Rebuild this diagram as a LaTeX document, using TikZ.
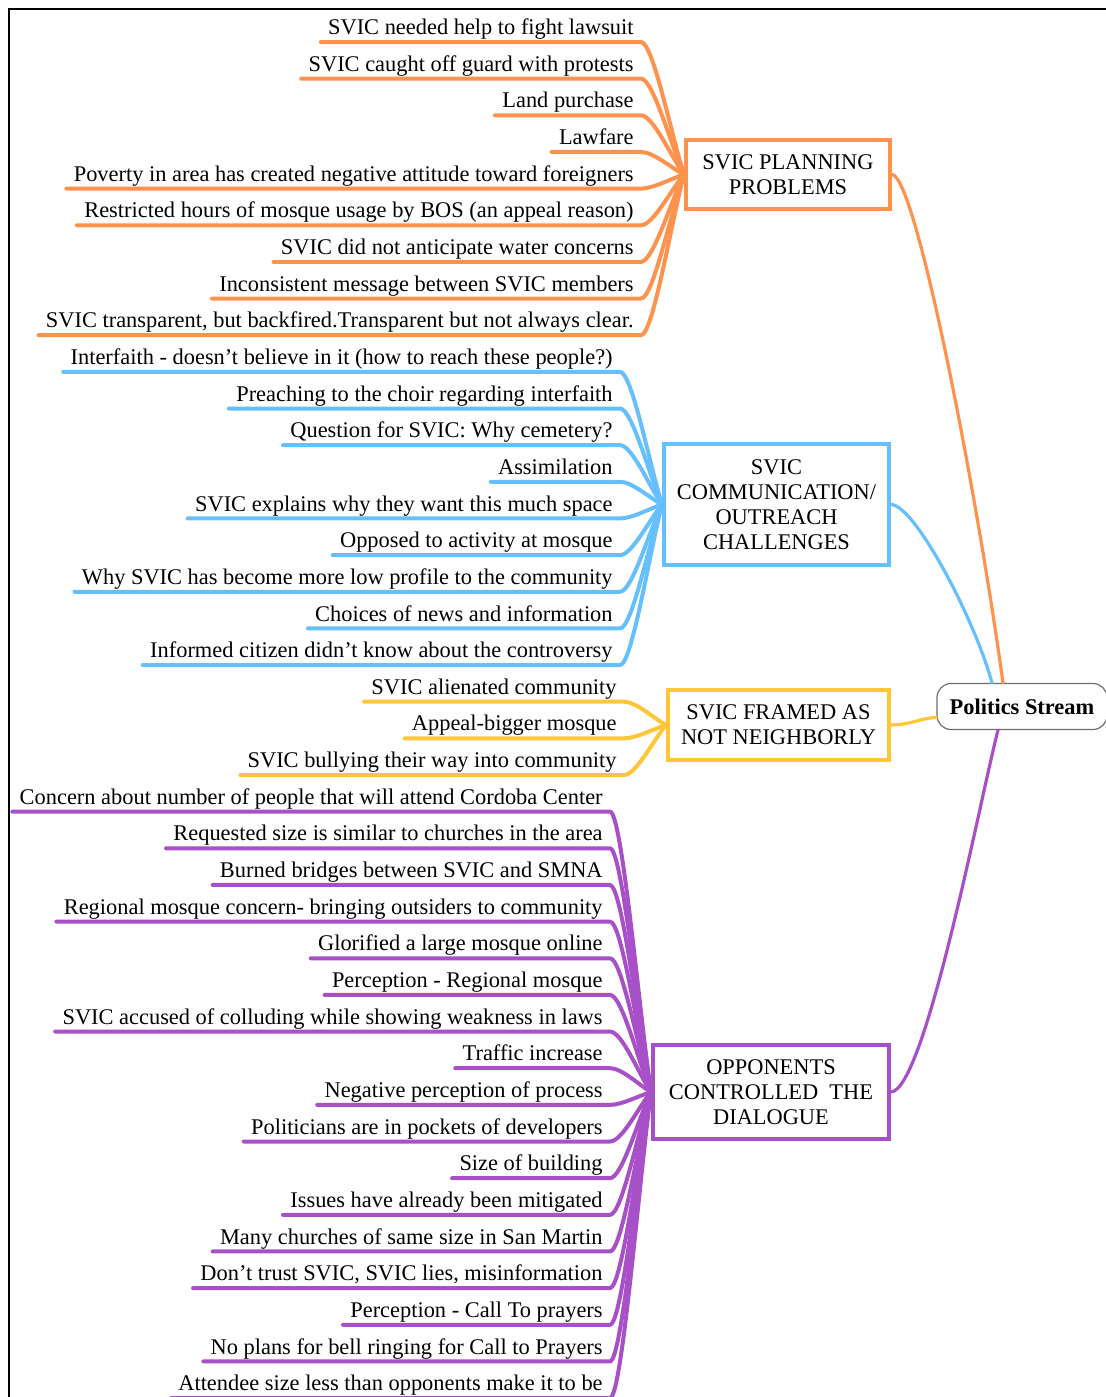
\documentclass[tikz,border=0pt]{standalone}
\usepackage{fontspec}
\setmainfont{Liberation Serif}
\usetikzlibrary{positioning,calc}
\definecolor{maporange}{RGB}{255,146,77}
\definecolor{mapblue}{RGB}{102,192,255}
\definecolor{mapyellow}{RGB}{255,199,56}
\definecolor{mappurple}{RGB}{168,80,200}
\definecolor{mapgray}{RGB}{110,110,110}

\begin{document}
\begin{tikzpicture}[x=0.5pt,y=-0.5pt,font=\fontsize{11.2}{12.5}\selectfont,
        leaf/.style={anchor=south east,inner xsep=3.5pt,inner ysep=0.7pt,text height=7.8pt,text depth=2.8pt},
        leafline/.style={line width=2pt,line cap=round,line join=round},
        topic/.style={line width=2pt,align=center,inner sep=0pt,text=black},
        branch/.style={line width=1.6pt,line cap=round}]
            \useasboundingbox (0,0) rectangle (1106,1397);
            \draw[line width=1pt] (9,1397) -- (9,9) -- (1106,9);

            \node[draw=mapgray,line width=0.6pt,rounded corners=7pt,minimum width=85pt,minimum height=23pt,
                font=\fontsize{11.2}{12.5}\selectfont\bfseries] (root) at (1022,706.5) {Politics Stream};
            \node[topic,draw=maporange,minimum width=102pt,minimum height=34.5pt] (plan) at (788,174.5)
                {SVIC PLANNING\\PROBLEMS};
            \node[topic,draw=mapblue,minimum width=112.5pt,minimum height=60.5pt] (comm) at (776.5,504.5)
                {SVIC\\COMMUNICATION/\\OUTREACH\\CHALLENGES};
            \node[topic,draw=mapyellow,minimum width=110.5pt,minimum height=35pt] (framed) at (778.5,725)
                {SVIC FRAMED AS\\NOT NEIGHBORLY};
            \node[topic,draw=mappurple,minimum width=118pt,minimum height=47pt] (opp) at (771,1092)
                {OPPONENTS\\CONTROLLED\ \ THE\\DIALOGUE};

            % topics to the root
            \draw[branch,maporange] (plan.east) .. controls (915,175) and (975,480) .. ([xshift=-9.5pt]root.north);
            \draw[branch,mapblue] (comm.east) .. controls (915,505) and (975,620) .. ([xshift=-15pt]root.north);
            \draw[branch,mapyellow] (framed.east) .. controls (915,724) and (920,718) .. ([yshift=-5.5pt]root.west);
            \draw[branch,mappurple] ([xshift=-12pt]root.south) .. controls (980,800) and (925,1090) .. (opp.east);

            % leaves
            \foreach \txt [count=\i] in {SVIC needed help to fight lawsuit,
                    SVIC caught off guard with protests,Land purchase,Lawfare,
                    Poverty in area has created negative attitude toward foreigners,
                    Restricted hours of mosque usage by BOS (an appeal reason),
                    SVIC did not anticipate water concerns,Inconsistent message between SVIC members,
                    {SVIC transparent, but backfired.Transparent but not always clear.}}{
                \node[leaf] (o\i) at (641,{42+36.65*(\i-1)}) {\txt};
                \draw[leafline,maporange] (o\i.south west) -- (o\i.south east)
                    .. controls +(12,0) and ($(plan.west)!0.3!(o\i.south east)$) .. (plan.west);
            }
            \foreach \txt [count=\i] in {Interfaith - doesn’t believe in it (how to reach these people?),
                    Preaching to the choir regarding interfaith,Question for SVIC: Why cemetery?,
                    Assimilation,SVIC explains why they want this much space,Opposed to activity at mosque,
                    Why SVIC has become more low profile to the community,Choices of news and information,
                    Informed citizen didn't know about the controversy}{
                \node[leaf] (b\i) at (620,{42+36.65*(\i+8)}) {\txt};
                \draw[leafline,mapblue] (b\i.south west) -- (b\i.south east)
                    .. controls +(12,0) and ($(comm.west)!0.3!(b\i.south east)$) .. (comm.west);
            }
            \foreach \txt [count=\i] in {SVIC alienated community,Appeal-bigger mosque,
                    SVIC bullying their way into community}{
                \node[leaf] (y\i) at (624,{42+36.65*(\i+17)}) {\txt};
                \draw[leafline,mapyellow] (y\i.south west) -- (y\i.south east)
                    .. controls +(12,0) and ($(framed.west)!0.3!(y\i.south east)$) .. (framed.west);
            }
            \foreach \txt [count=\i] in {Concern about number of people that will attend Cordoba Center,
                    Requested size is similar to churches in the area,Burned bridges between SVIC and SMNA,
                    Regional mosque concern- bringing outsiders to community,Glorified a large mosque online,
                    Perception - Regional mosque,SVIC accused of colluding while showing weakness in laws,
                    Traffic increase,Negative perception of process,Politicians are in pockets of developers,
                    Size of building,Issues have already been mitigated,Many churches of same size in San Martin,
                    {Don’t trust SVIC, SVIC lies, misinformation},Perception - Call To prayers,
                    No plans for bell ringing for Call to Prayers,Attendee size less than opponents make it to be}{
                \node[leaf] (p\i) at (610,{42+36.65*(\i+20)}) {\txt};
                \draw[leafline,mappurple] (p\i.south west) -- (p\i.south east)
                    .. controls +(12,0) and ($(opp.west)!0.3!(p\i.south east)$) .. (opp.west);
            }
        \end{tikzpicture}
\end{document}
